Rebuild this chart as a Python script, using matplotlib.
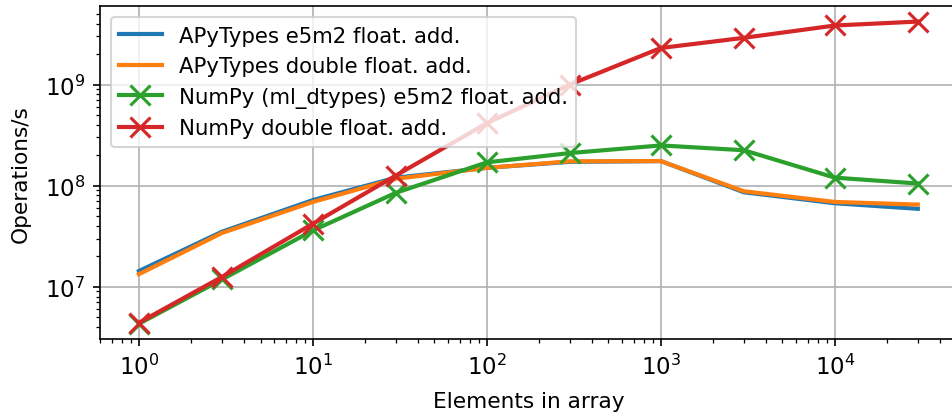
import matplotlib
matplotlib.use("Agg")
import matplotlib.pyplot as plt

sizes = [1, 3, 10, 30, 100, 300, 1000, 3000, 10000, 30000]

apy_e5m2 = [1.43e7, 3.5e7, 7.2e7, 1.2e8, 1.5e8, 1.72e8, 1.75e8, 8.6e7, 6.7e7, 5.9e7]
apy_double = [1.33e7, 3.4e7, 6.9e7, 1.17e8, 1.5e8, 1.74e8, 1.75e8, 8.8e7, 6.9e7, 6.5e7]
np_e5m2 = [4.3e6, 1.18e7, 3.6e7, 8.5e7, 1.7e8, 2.1e8, 2.5e8, 2.24e8, 1.2e8, 1.05e8]
np_double = [4.4e6, 1.25e7, 4.2e7, 1.26e8, 4.15e8, 1.0e9, 2.3e9, 2.9e9, 3.84e9, 4.2e9]

plt.rcParams["lines.linewidth"] = 2
plt.rcParams["xtick.labelsize"] = 11
plt.rcParams["ytick.labelsize"] = 11

fig = plt.figure(figsize=(952 / 150, 414 / 150), dpi=150)
ax = fig.add_axes([0.105, 0.179, 0.9, 0.803])

ax.plot(sizes, apy_e5m2, label="APyTypes e5m2 float. add.")
ax.plot(sizes, apy_double, label="APyTypes double float. add.")
ax.plot(sizes, np_e5m2, "x-", markersize=10, markeredgewidth=1.5,
        label="NumPy (ml_dtypes) e5m2 float. add.")
ax.plot(sizes, np_double, "x-", markersize=10, markeredgewidth=1.5,
        label="NumPy double float. add.")

ax.set_xscale("log")
ax.set_yscale("log")
ax.set_xlabel("Elements in array", fontsize=10.4, labelpad=6)
ax.set_ylabel("Operations/s", fontsize=10.4, labelpad=7)
ax.grid(True)
ax.legend(loc="upper left", fontsize=10.2)

fig.savefig("out.png", dpi=150)
